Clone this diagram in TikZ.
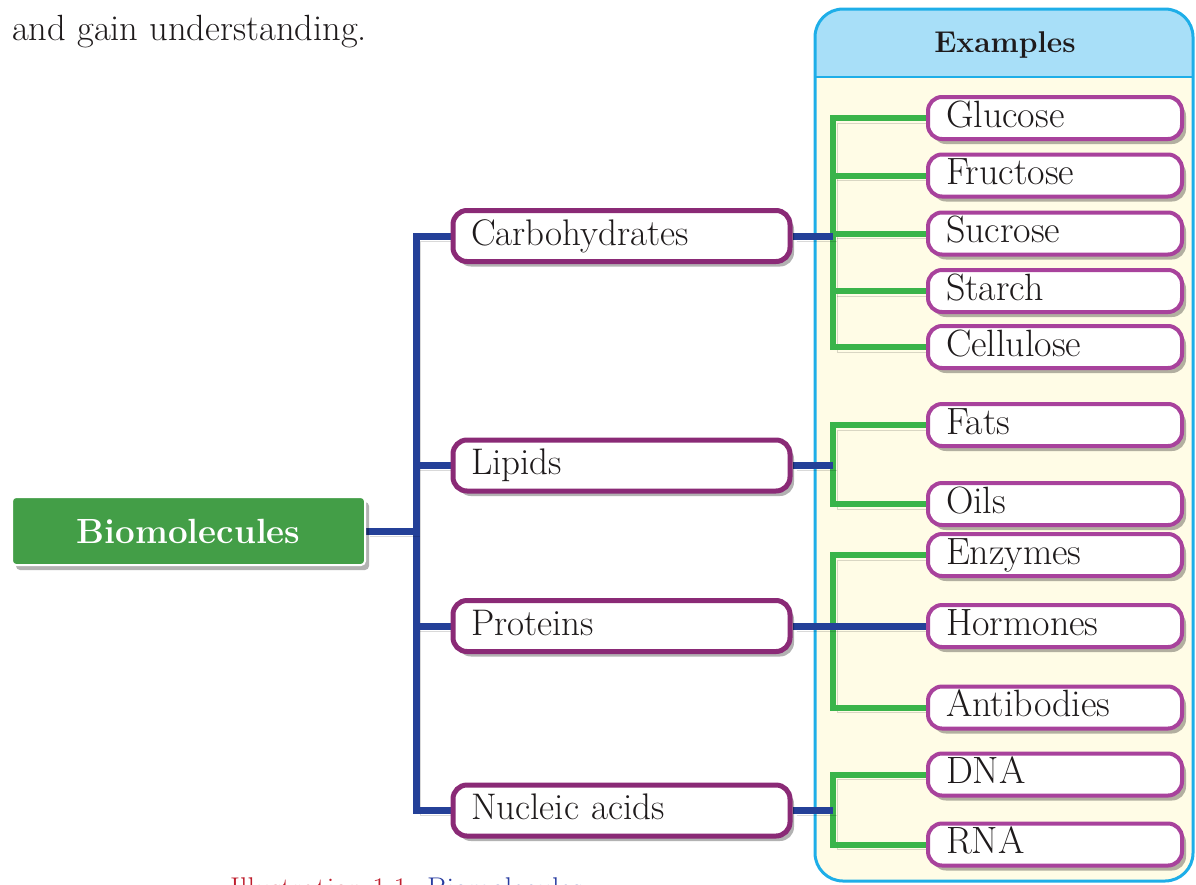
\documentclass[tikz,border=0pt]{standalone}
\usepackage{fontspec}
\usetikzlibrary{shadows}
\definecolor{blueline}{RGB}{36,64,152}
\definecolor{greenline}{RGB}{58,180,74}
\definecolor{biogreen}{RGB}{67,158,71}
\definecolor{lvlpurple}{RGB}{138,42,118}
\definecolor{expurple}{RGB}{168,66,156}
\definecolor{panelblue}{RGB}{30,174,232}
\definecolor{headfill}{RGB}{168,223,248}
\definecolor{bodyfill}{RGB}{255,252,230}
\definecolor{capred}{RGB}{190,30,45}
\definecolor{capblue}{RGB}{40,60,160}
\definecolor{textdark}{RGB}{30,26,27}
\pgfdeclarelayer{background}
\pgfsetlayers{background,main}
\tikzset{
  nshadow/.style={drop shadow={opacity=0.3,shadow xshift=4pt,shadow yshift=-5pt,fill=black}},
  biobox/.style={draw=white, line width=2, fill=biogreen, rounded corners=4, minimum width=353, minimum height=68,
    text=white, font=\fontsize{35}{40}\selectfont\bfseries, nshadow},
  lvlbox/.style={draw=lvlpurple, line width=5, fill=white, rounded corners=14, text width=301, inner xsep=18,
    minimum height=51, align=left, text height=23, text depth=5, text=textdark,
    font=\fontsize{37}{42}\selectfont, nshadow},
  exbox/.style={draw=expurple, line width=4, fill=white, rounded corners=14, text width=218, inner xsep=18,
    minimum height=42, align=left, text height=23, text depth=5, text=textdark,
    font=\fontsize{38}{42}\selectfont, nshadow},
  lshadow/.style={preaction={draw=black, opacity=0.15, transform canvas={shift={(4pt,-5pt)}}}},
  bconn/.style={draw=blueline, line width=7, lshadow},
  gconn/.style={draw=greenline, line width=6, lshadow},
}
\begin{document}
\begin{tikzpicture}[x=1pt,y=-1pt]
\useasboundingbox (0,0) rectangle (1196,884);

% intro text
\node[anchor=base west, inner sep=0, text=textdark, font=\fontsize{36.5}{40}\selectfont] (intro) at (12,40) {and gain understanding.};

% panel
\begin{pgfonlayer}{background}
\fill[bodyfill, rounded corners=28] (815,9) rectangle (1193,881);
\begin{scope}
  \clip[rounded corners=28] (815,9) rectangle (1193,881);
  \fill[headfill] (815,9) rectangle (1193,77);
\end{scope}
\draw[panelblue, line width=2] (815,77) -- (1193,77);
\draw[panelblue, line width=3, rounded corners=28] (815,9) rectangle (1193,881);
\end{pgfonlayer}
\node[anchor=base, inner sep=0, text=textdark, font=\fontsize{30}{36}\selectfont\bfseries] (exhead) at (1005,52) {Examples};

% main nodes
\node[biobox] (bio) at (188.5,531) {Biomolecules};
\node[lvlbox] (carb) at (621.5,236) {Carbohydrates};
\node[lvlbox] (lip) at (621.5,465.5) {Lipids};
\node[lvlbox] (prot) at (621.5,626) {Proteins};
\node[lvlbox] (nuc) at (621.5,810.5) {Nucleic acids};

% examples
\node[exbox] (glu) at (1055,118) {Glucose};
\node[exbox] (fru) at (1055,175.5) {Fructose};
\node[exbox] (suc) at (1055,233.5) {Sucrose};
\node[exbox] (sta) at (1055,291) {Starch};
\node[exbox] (cel) at (1055,347) {Cellulose};
\node[exbox] (fat) at (1055,425) {Fats};
\node[exbox] (oil) at (1055,504) {Oils};
\node[exbox] (enz) at (1055,555) {Enzymes};
\node[exbox] (hor) at (1055,626) {Hormones};
\node[exbox] (ant) at (1055,707.5) {Antibodies};
\node[exbox] (dna) at (1055,774.5) {DNA};
\node[exbox] (rna) at (1055,844.5) {RNA};

\coordinate (tk) at (416,0);
\coordinate (g) at (833,0);

\begin{pgfonlayer}{background}
% green connectors
\draw[gconn] (glu.west) -| (g |- cel.west) -- (cel.west);
\draw[gconn] (fru.west) -- (fru.west -| g);
\draw[gconn] (suc.west) -- (suc.west -| g);
\draw[gconn] (sta.west) -- (sta.west -| g);
\draw[gconn] (fat.west) -| (g |- oil.west) -- (oil.west);
\draw[gconn] (enz.west) -| (g |- ant.west) -- (ant.west);
\draw[gconn] (dna.west) -| (g |- rna.west) -- (rna.west);
% blue connectors
\draw[bconn] (carb.west) -| (tk |- nuc.west) -- (nuc.west);
\draw[bconn] (bio.east) -- (bio.east -| tk);
\draw[bconn] (lip.west) -- (lip.west -| tk);
\draw[bconn] (prot.west) -- (prot.west -| tk);
\draw[bconn] (carb.east) -- (carb.east -| g);
\draw[bconn] (lip.east) -- (lip.east -| g);
\draw[bconn] (prot.east) -- (hor.west);
\draw[bconn] (nuc.east) -- (nuc.east -| g);
\end{pgfonlayer}

% caption (clipped at the bottom edge, as in the reference)
\begin{scope}
\clip (0,0) rectangle (1196,884);
\node[anchor=base west, inner sep=0, font=\fontsize{30}{36}\selectfont] (cap) at (230,898) {\textcolor{capred}{Illustration 1.1:} \textcolor{capblue}{Biomolecules}};
\end{scope}
\end{tikzpicture}
\end{document}
